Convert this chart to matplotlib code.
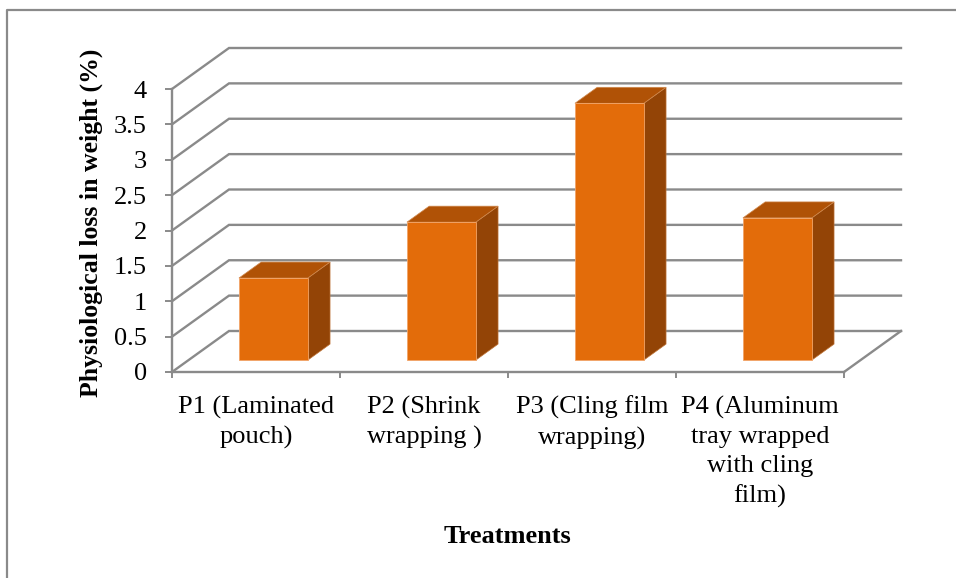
import matplotlib.pyplot as plt
from matplotlib.patches import Polygon
import numpy as np

plt.rcParams['font.family'] = ['Liberation Serif', 'DejaVu Serif']
plt.rcParams['font.size'] = 19

categories = ['P1 (Laminated\npouch)', 'P2 (Shrink\nwrapping )',
              'P3 (Cling film\nwrapping)',
              'P4 (Aluminum\ntray wrapped\nwith cling\nfilm)']
weight_loss = [1.16, 1.95, 3.63, 2.01]
y_ticks = np.arange(0, 4.01, 0.5)
y_labels = ['0', '0.5', '1', '1.5', '2', '2.5', '3', '3.5', '4']

W, H = 956, 578
fig = plt.figure(figsize=(W / 100, H / 100), dpi=100)
ax = fig.add_axes([0, 0, 1, 1])
ax.set_facecolor('white')

# one category = 168 px, one unit = 70.75 px; origin at the front-left corner
ax.set_xlim(-172 / 168, (W - 172) / 168)
ax.set_ylim(-(H - 372) / 70.75, 372 / 70.75)

grid = '#8a8a8a'
ddx, ddy = 57 / 168, 41 / 70.75   # full depth of the box
f0, dep = 0.29, 0.39               # bar front position and depth (fraction)

# walls: side wall diagonals + back wall lines
for v in y_ticks:
    ax.plot([0, ddx, 4 + ddx], [v, v + ddy, v + ddy], color=grid, lw=1.7,
            zorder=1, solid_joinstyle='miter')
ax.plot([4, 4 + ddx], [0, ddy], color=grid, lw=1.7, zorder=1)

# 3d-looking bars
front_c, top_c, side_c = '#e36c0a', '#b05206', '#934406'
for i, v in enumerate(weight_loss):
    x0 = i + 0.30 + f0 * ddx
    x1 = x0 + 0.41
    y0 = f0 * ddy
    y1 = y0 + v
    ox, oy = dep * ddx, dep * ddy
    front = [(x0, y0), (x1, y0), (x1, y1), (x0, y1)]
    top = [(x0, y1), (x1, y1), (x1 + ox, y1 + oy), (x0 + ox, y1 + oy)]
    side = [(x1, y0), (x1 + ox, y0 + oy), (x1 + ox, y1 + oy), (x1, y1)]
    ax.add_patch(Polygon(side, closed=True, facecolor=side_c,
                         edgecolor='#c0763a', lw=0.5, zorder=3))
    ax.add_patch(Polygon(top, closed=True, facecolor=top_c,
                         edgecolor='#d08a50', lw=0.5, zorder=3))
    ax.add_patch(Polygon(front, closed=True, facecolor=front_c,
                         edgecolor='#f2a468', lw=0.6, zorder=4))

# front axes
for s in ['top', 'right']:
    ax.spines[s].set_visible(False)
for s in ['left', 'bottom']:
    ax.spines[s].set_position(('data', 0))
    ax.spines[s].set_bounds(0, 4)
    ax.spines[s].set_color(grid)
    ax.spines[s].set_linewidth(1.7)
    ax.spines[s].set_zorder(2)

ax.set_yticks(y_ticks, labels=y_labels)
ax.tick_params(axis='y', length=5, width=1.4, color=grid, pad=13)
ax.set_xticks(np.arange(5))
ax.set_xticklabels([])
ax.set_xticks(np.arange(4) + 0.5, labels=categories, minor=True)
ax.tick_params(axis='x', which='major', length=4.5, width=1.4, color=grid)
ax.tick_params(axis='x', which='minor', length=0, pad=17)
for lbl in ax.get_xticklabels(minor=True):
    lbl.set_linespacing(1.43)

ax.set_ylabel('Physiological loss in weight (%)', fontweight='bold',
              fontsize=18.5)
ax.yaxis.set_label_coords(103 / W, 1 - 223 / H)
ax.set_xlabel('Treatments', fontweight='bold', va='baseline')
ax.xaxis.set_label_coords(507 / W, 1 - 543 / H)

# chart area frame
ax.plot([7 / W, 7 / W, 1], [0, 1 - 10 / H, 1 - 10 / H], color=grid, lw=1.6,
        transform=ax.transAxes, clip_on=False, zorder=5)

fig.savefig('out.png', dpi=100)
